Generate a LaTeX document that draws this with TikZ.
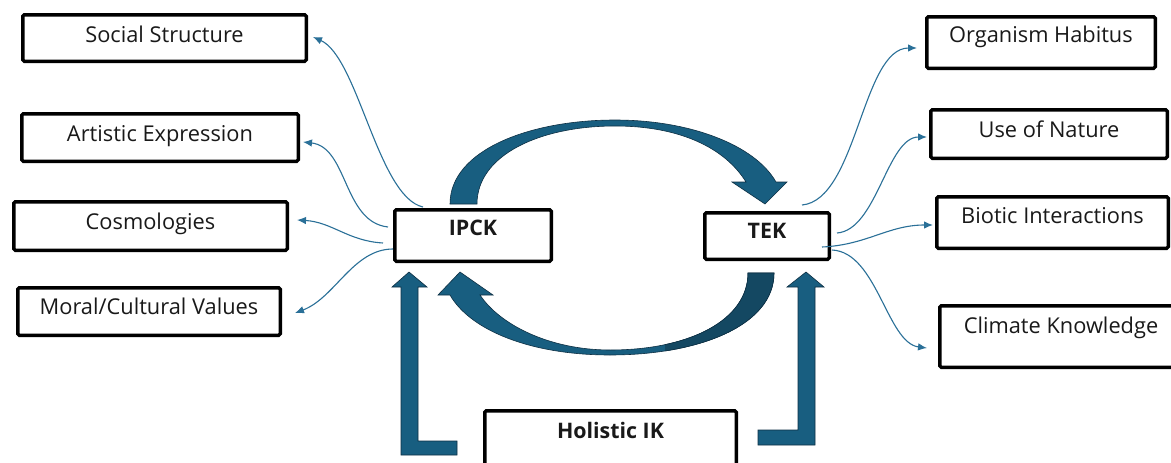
\documentclass[tikz,border=0pt]{standalone}
\usepackage{fontspec}
\setmainfont{Open Sans}
\usetikzlibrary{arrows.meta,calc}
\definecolor{thinc}{RGB}{42,112,152}
\definecolor{bigc}{RGB}{24,94,128}
\definecolor{bigdark}{RGB}{20,72,98}
\definecolor{bigline}{RGB}{14,48,68}
\definecolor{txtc}{RGB}{25,25,25}
\tikzset{
  box/.style={draw=black, line width=3.5pt, rounded corners=1.5pt, inner sep=0pt,
    fill=white, text=txtc, text height=14pt, font=\fontsize{21.8}{26}\selectfont},
  boldbox/.style={box, font=\fontsize{21.4}{26}\selectfont\bfseries},
  thinarrow/.style={draw=thinc, line width=1.1pt, -{Latex[length=9pt,width=7.5pt]}},
  bigarrow/.style={fill=bigc, draw=bigline, line width=0.6pt, line join=miter},
}
\begin{document}
\begin{tikzpicture}[x=1pt,y=-1pt]
\clip (0,0) rectangle (1171,463);
\fill[white] (0,0) rectangle (1171,463);
% big curved arrow IPCK -> TEK (top)
\path[bigarrow] (450,204) .. controls (450,150) and (530,120) .. (615,120)
  .. controls (690,120) and (755,145) .. (776,182) -- (787,182) -- (765,204) -- (732,182) -- (746,182)
  .. controls (725,148) and (680,126) .. (615,126)
  .. controls (540,126) and (477,155) .. (477,204) -- cycle;
% big curved arrow TEK -> IPCK (bottom)
\path[bigarrow] (774,273) .. controls (774,325) and (700,355) .. (610,355)
  .. controls (530,355) and (470,330) .. (450,295) -- (438,295) -- (460,272) -- (493,295) -- (480,295)
  .. controls (500,325) and (550,350) .. (610,350)
  .. controls (690,350) and (748,320) .. (748,273) -- cycle;
\begin{scope}
\clip (665,260) rectangle (800,362);
\path[bigarrow, fill=bigdark] (774,273) .. controls (774,325) and (700,355) .. (610,355)
  -- (610,350) .. controls (690,350) and (748,320) .. (748,273) -- cycle;
\end{scope}
% L-shaped arrows from Holistic IK
\path[bigarrow] (418,287) -- (427,287) -- (409,272) -- (392,287) -- (401,287) -- (401,455)
  -- (457,455) -- (457,441) -- (418,441) -- cycle;
\path[bigarrow] (798,287) -- (787,287) -- (806,272) -- (824,287) -- (815,287) -- (815,445)
  -- (758,445) -- (758,430) -- (798,430) -- cycle;
% boxes
\node[box, minimum width=283.5pt, minimum height=46.5pt, text depth=6pt] (social) at (164.5,38) {Social Structure};
\node[box, minimum width=276.5pt, minimum height=47.5pt, text depth=7pt] (artistic) at (160,137.5) {Artistic Expression};
\node[box, minimum width=273.5pt, minimum height=48.5pt, text depth=8pt] (cosmo) at (150.5,226) {Cosmologies};
\node[box, minimum width=262.5pt, minimum height=47.5pt, text depth=9pt] (moral) at (149,311.5) {Moral/Cultural Values};
\node[box, minimum width=228.5pt, minimum height=51.5pt, text depth=14pt] (organism) at (1041,42.5) {Organism Habitus};
\node[box, minimum width=236.5pt, minimum height=48.5pt, text depth=8pt] (use) at (1049,134) {Use of Nature};
\node[box, minimum width=231.5pt, minimum height=51.5pt, text depth=13pt] (biotic) at (1052.5,222.5) {Biotic Interactions\hspace{11pt}};
\node[box, minimum width=242.5pt, minimum height=61.5pt, text depth=21pt] (climate) at (1061,336.5) {Climate Knowledge};
\node[boldbox, minimum width=156.5pt, minimum height=51.5pt, text depth=14pt] (ipck) at (473,235.5) {IPCK};
\node[boldbox, minimum width=124.5pt, minimum height=46.5pt, text depth=10pt] (tek) at (767,236) {TEK};
\node[boldbox, minimum width=251.5pt, minimum height=77.5pt, text depth=37pt] (holistic) at (610.5,449.5) {Holistic IK};
% thin connectors from IPCK
\draw[thinarrow] ($(ipck.north west)+(30,-1)$) .. controls ($(ipck.north west)+(-15,-11)$) and ($(social.east)+(50,19)$) .. ($(social.east)+(5,-1)$);
\draw[thinarrow] ($(ipck.west)+(-5,-8.5)$) .. controls ($(ipck.west)+(-50,-13.5)$) and ($(artistic.east)+(48,9.5)$) .. ($(artistic.east)+(3,4.5)$);
\draw[thinarrow] ($(ipck.west)+(-10,7.5)$) .. controls ($(ipck.west)+(-45,5.5)$) and ($(cosmo.east)+(43,-4)$) .. ($(cosmo.east)+(8,-6)$);
\draw[thinarrow] ($(ipck.west)+(0,13.5)$) .. controls ($(ipck.west)+(-40,13.5)$) and ($(moral.east)+(53,-13.5)$) .. ($(moral.east)+(13,1.5)$);
% thin connectors from TEK
\draw[thinarrow] ($(tek.north)+(35,-6)$) .. controls ($(tek.north)+(90,-11)$) and ($(organism.west)+(-63,5.5)$) .. ($(organism.west)+(-8,5.5)$);
\draw[thinarrow] ($(tek.east)+(6,-3)$) .. controls ($(tek.east)+(46,-6)$) and ($(use.west)+(-42,3)$) .. ($(use.west)+(-2,3)$);
\draw[thinarrow] ($(tek.east)+(-9,11)$) .. controls ($(tek.east)+(36,9)$) and ($(biotic.west)+(-47,2.5)$) .. ($(biotic.west)+(-2,2.5)$);
\draw[thinarrow] ($(tek.east)+(1,14)$) .. controls ($(tek.east)+(46,16)$) and ($(climate.west)+(-51,6.5)$) .. ($(climate.west)+(-11,11.5)$);
\end{tikzpicture}
\end{document}
